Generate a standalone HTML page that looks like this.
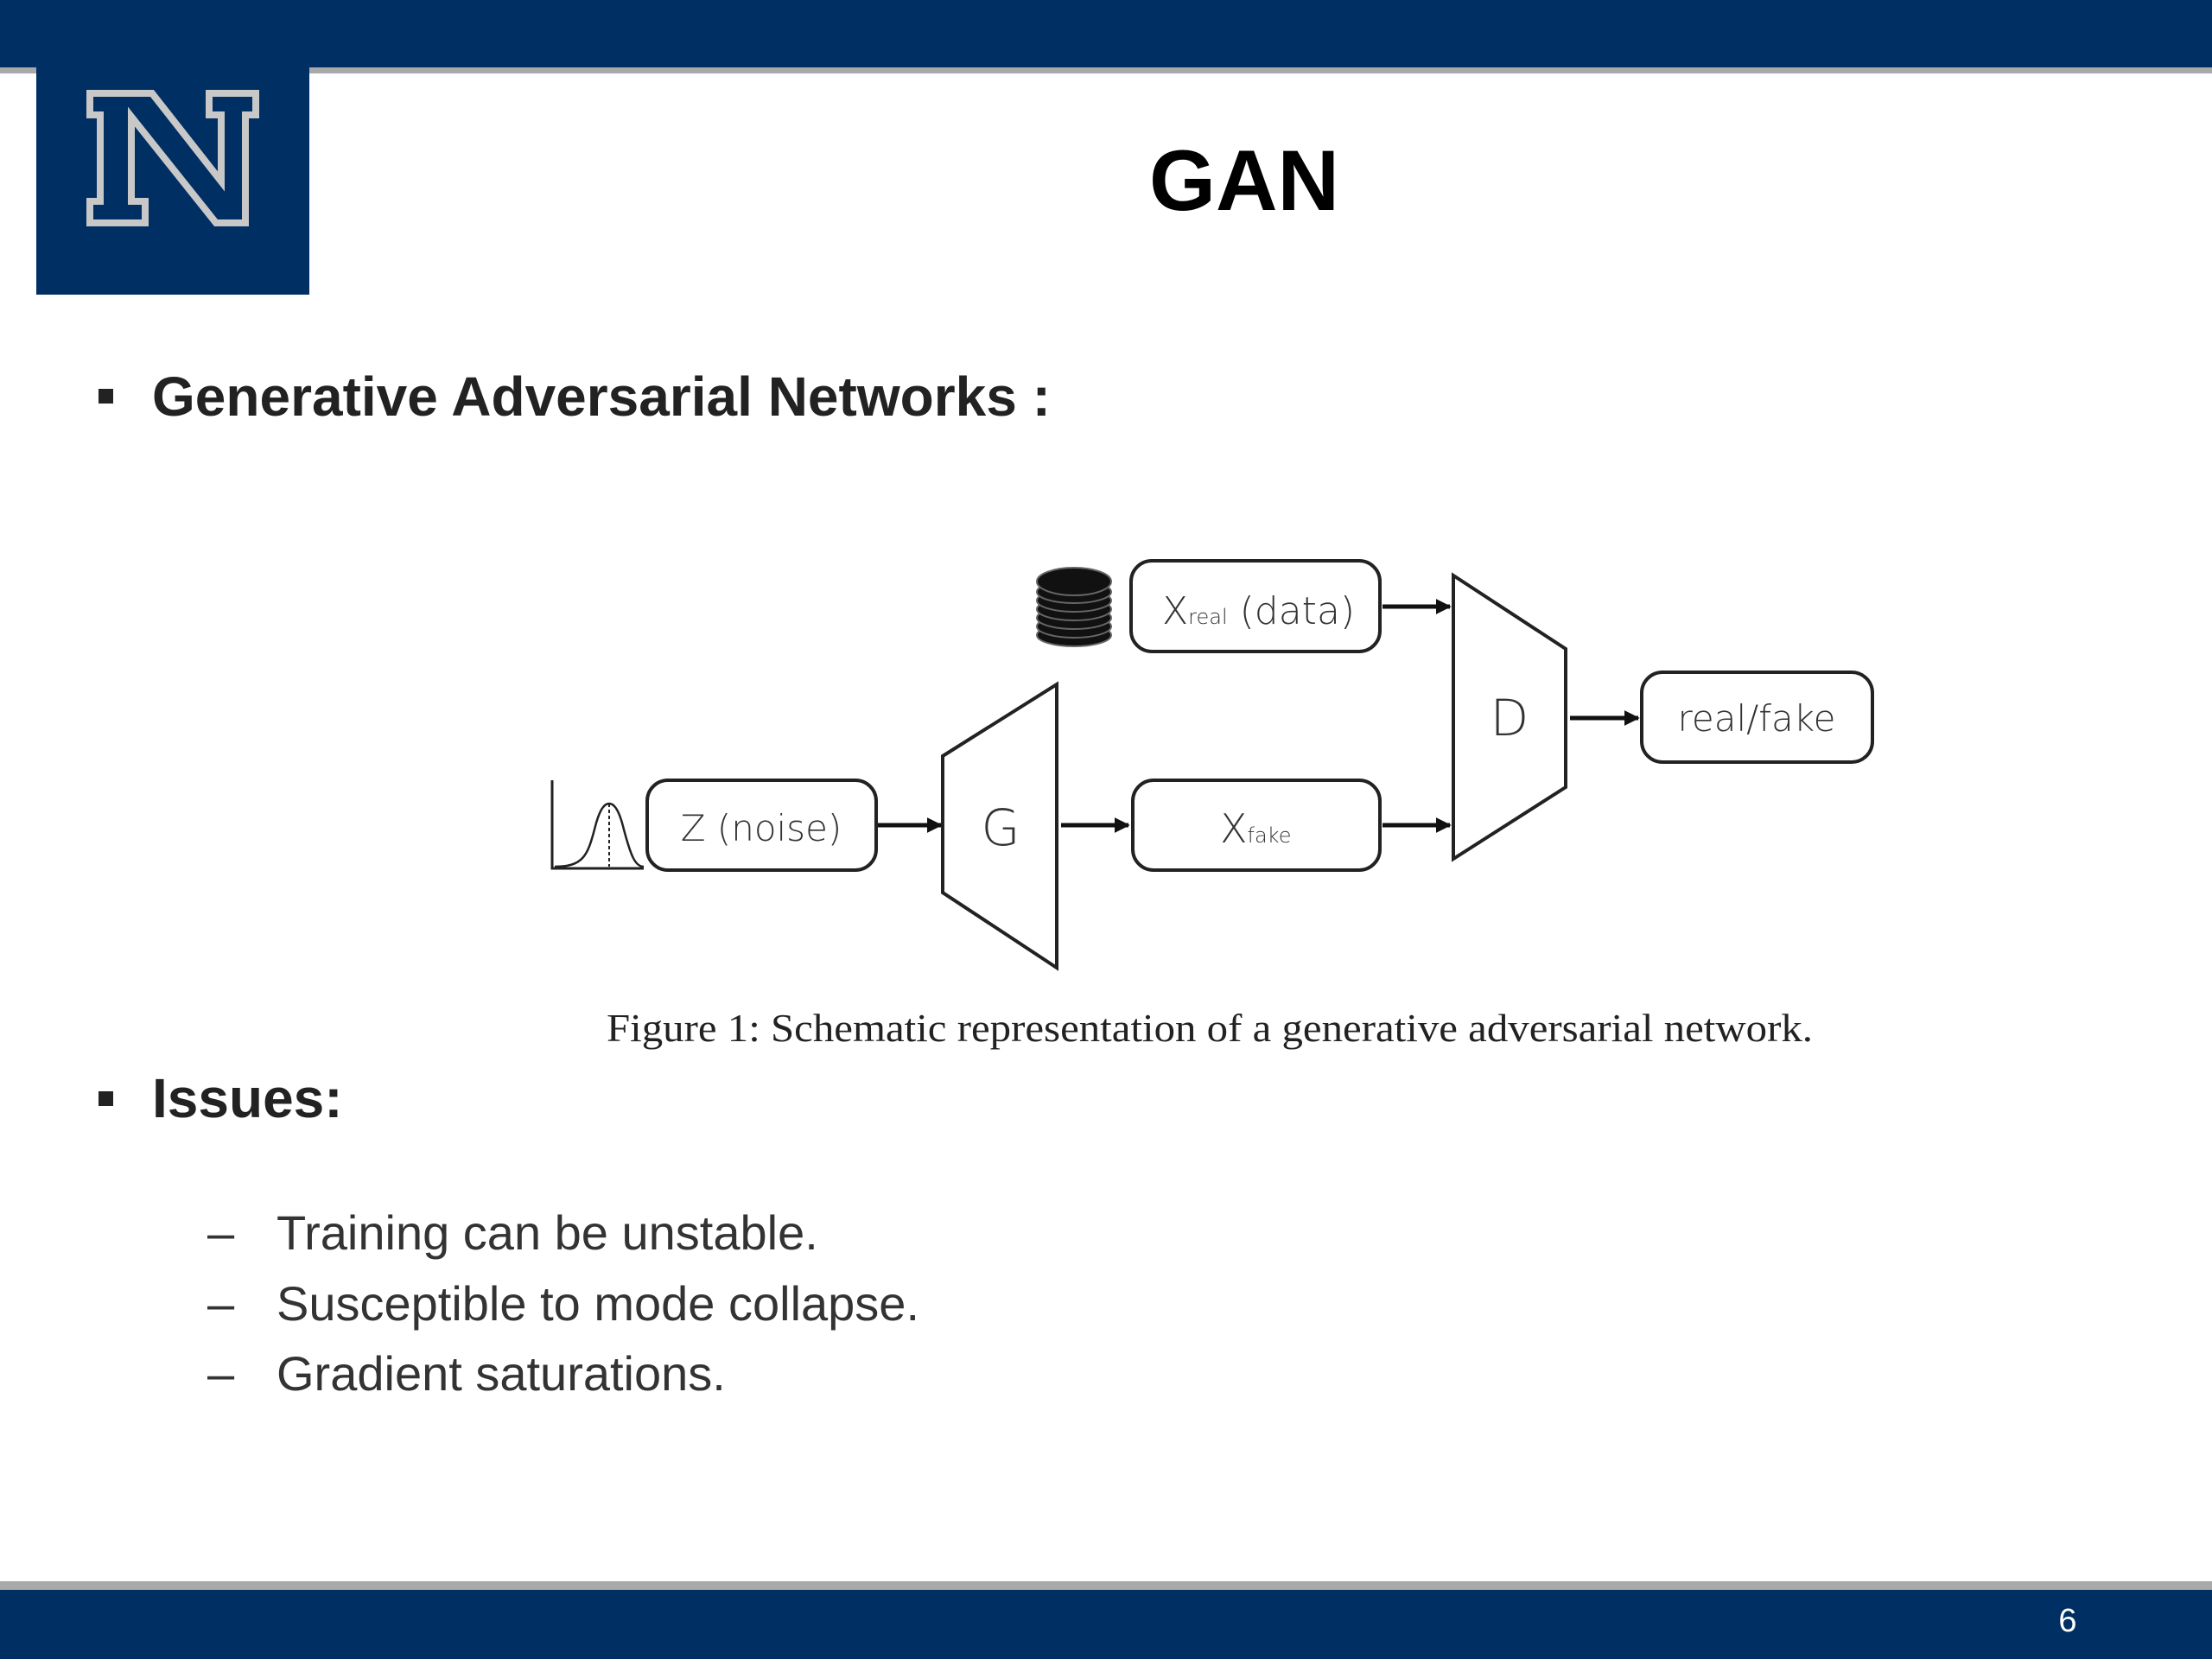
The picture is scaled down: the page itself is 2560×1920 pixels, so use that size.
<!DOCTYPE html>
<html><head><meta charset="utf-8"><style>
html,body{margin:0;padding:0;width:2560px;height:1920px;overflow:hidden;background:#fff}
</style></head><body>
<svg width="2560" height="1920" viewBox="0 0 2560 1920" xmlns="http://www.w3.org/2000/svg">
<defs>
<marker id="a" viewBox="0 0 10 10" markerWidth="18" markerHeight="18" refX="9" refY="5" orient="auto" markerUnits="userSpaceOnUse"><path d="M0,0 L10,5 L0,10 z" fill="#111"/></marker></defs>
<rect x="0" y="0" width="2560" height="78" fill="#002f63"/>
<rect x="0" y="78" width="2560" height="7" fill="#a9a9a9"/>
<rect x="42" y="0" width="316" height="341" fill="#002f63"/>
<path d="M104,108 H176 L256,210 V133 H242 V108 H296 V133 H284 V258 H250 L152,135 V233 H168 V258 H104 V233 H116 V133 H104 Z" fill="#002f63" stroke="#c8c8c8" stroke-width="8" stroke-linejoin="miter"/>
<text x="1440" y="243" font-family="Liberation Sans, sans-serif" font-weight="bold" font-size="99" text-anchor="middle" fill="#000">GAN</text>
<rect x="114" y="450" width="17" height="17" fill="#222"/>
<text x="176" y="481" font-family="Liberation Sans, sans-serif" font-weight="bold" font-size="64" fill="#222">Generative Adversarial Networks :</text>
<g fill="none" stroke="#222" stroke-width="4">
<rect x="1309" y="649" width="288" height="105" rx="24"/>
<rect x="1900" y="778" width="267" height="104" rx="24"/>
<rect x="749" y="903" width="265" height="104" rx="24"/>
<rect x="1311" y="903" width="286" height="104" rx="24"/>
<path d="M1682,666 L1812,751 L1812,911 L1682,994 Z"/>
<path d="M1091,875 L1223,792 L1223,1120 L1091,1033 Z"/>
<path d="M639,903 V1005 H745" stroke-width="3"/>
<path d="M642,1003 C675,1003 680,990 688,960 C694,935 700,930 705,930 C710,930 716,935 722,960 C730,990 735,1003 745,1003" stroke-width="2.5"/>
<path d="M705,930 V1003" stroke-width="2" stroke-dasharray="4,3"/>
</g>
<g stroke="#111" stroke-width="5" marker-end="url(#a)">
<line x1="1600" y1="702" x2="1678" y2="702"/>
<line x1="1016" y1="955" x2="1089" y2="955"/>
<line x1="1228" y1="955" x2="1306" y2="955"/>
<line x1="1600" y1="955" x2="1678" y2="955"/>
<line x1="1817" y1="831" x2="1896" y2="831"/>
</g>
<g fill="#111" stroke="#666" stroke-width="2">
<ellipse cx="1243" cy="735" rx="43" ry="13"/>
<ellipse cx="1243" cy="725" rx="43" ry="13"/>
<ellipse cx="1243" cy="715" rx="43" ry="13"/>
<ellipse cx="1243" cy="705" rx="43" ry="13"/>
<ellipse cx="1243" cy="695" rx="43" ry="13"/>
<ellipse cx="1243" cy="685" rx="43" ry="13"/>
<ellipse cx="1243" cy="673" rx="43" ry="16"/>
</g>
<g font-family="DejaVu Sans, Liberation Sans, sans-serif" fill="#333" font-weight="300">
<text x="1345" y="722" font-size="44">X<tspan font-size="24">real</tspan> (data)</text>
<text x="2033" y="846" font-size="42" text-anchor="middle">real/fake</text>
<text x="881" y="973" font-size="42" text-anchor="middle">Z (noise)</text>
<text x="1412" y="975" font-size="46">X<tspan font-size="24">fake</tspan></text>
<text x="1747" y="851" font-size="58" text-anchor="middle">D</text>
<text x="1158" y="978" font-size="58" text-anchor="middle">G</text>
</g>
<text x="702" y="1205" font-family="Liberation Serif, serif" font-size="46" fill="#222" textLength="1396" lengthAdjust="spacingAndGlyphs">Figure 1: Schematic representation of a generative adversarial network.</text>
<rect x="114" y="1263" width="17" height="17" fill="#222"/>
<text x="176" y="1293" font-family="Liberation Sans, sans-serif" font-weight="bold" font-size="64" fill="#222">Issues:</text>
<g font-family="Liberation Sans, sans-serif" font-size="56" fill="#333">
<text x="240" y="1446">–</text><text x="320" y="1446">Training can be unstable.</text>
<text x="240" y="1528">–</text><text x="320" y="1528">Susceptible to mode collapse.</text>
<text x="240" y="1609">–</text><text x="320" y="1609">Gradient saturations.</text>
</g>
<rect x="0" y="1830" width="2560" height="10" fill="#a9a9a9"/>
<rect x="0" y="1840" width="2560" height="80" fill="#002f63"/>
<text x="2393" y="1888" font-family="Liberation Sans, sans-serif" font-size="38" fill="#fff" text-anchor="middle">6</text>
</svg>
</body></html>
